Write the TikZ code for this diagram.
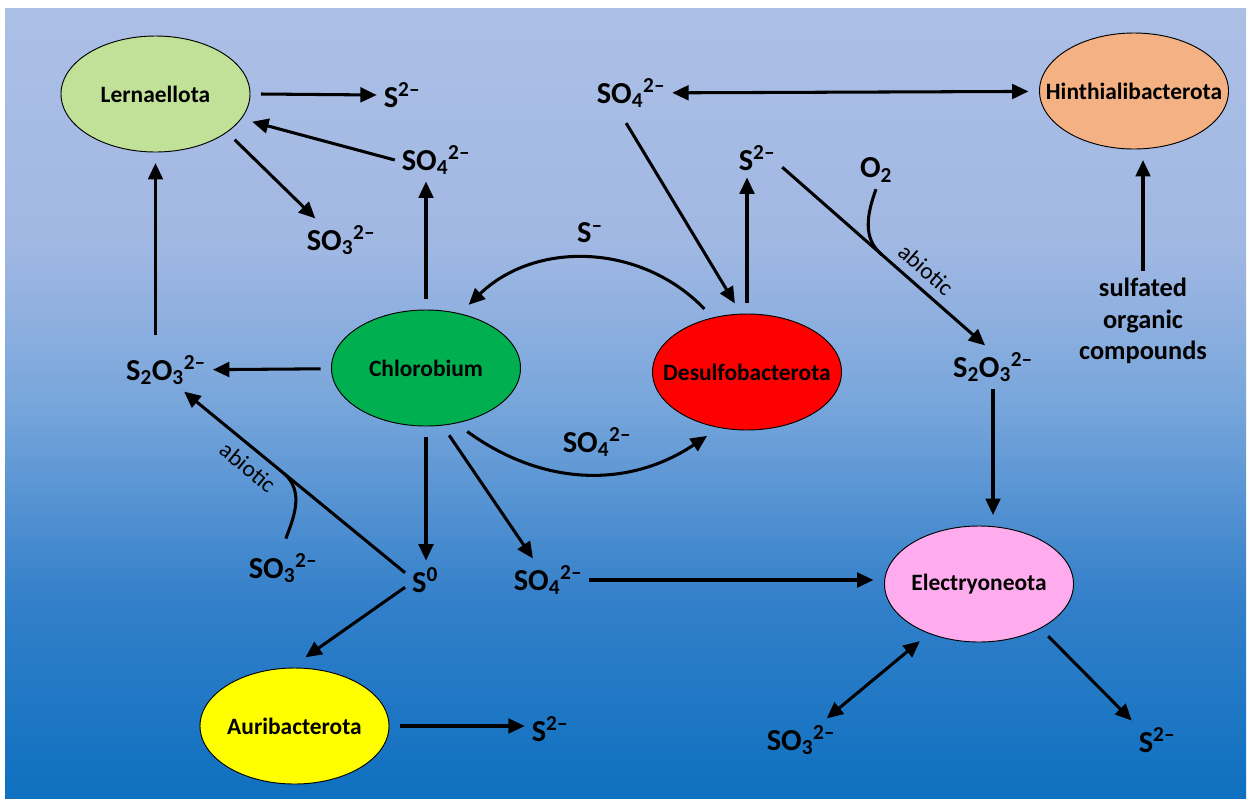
\documentclass[tikz,border=0pt]{standalone}
\usepackage{fontspec}
\setmainfont{Carlito}
\usetikzlibrary{shapes.geometric}
\usetikzlibrary{arrows.meta}
\usetikzlibrary{calc}

\definecolor{lernfill}{RGB}{194,225,152}
\definecolor{hinthfill}{RGB}{244,177,131}
\definecolor{chlorfill}{RGB}{0,176,80}
\definecolor{desulfill}{RGB}{255,0,0}
\definecolor{elecfill}{RGB}{255,172,238}
\definecolor{aurifill}{RGB}{255,255,0}

% water background, light on top, deep blue at the bottom
\pgfdeclareverticalshading{seaback}{100bp}{
  rgb(0bp)=(0.055,0.44,0.75); rgb(25bp)=(0.055,0.44,0.75);
  rgb(37.5bp)=(0.2,0.5,0.79); rgb(50bp)=(0.47,0.65,0.86);
  rgb(60bp)=(0.63,0.72,0.89); rgb(75bp)=(0.675,0.75,0.9);
  rgb(100bp)=(0.675,0.75,0.9)}

\tikzset{
  bug/.style={ellipse, draw=black, line width=0.8pt, minimum width=5.67cm,
    minimum height=3.48cm, inner sep=0pt, outer sep=0.33cm,
    label={[font=\fontsize{20}{24}\selectfont\bfseries]center:#1}},
  chem/.style={font=\fontsize{26}{30}\selectfont\bfseries, inner sep=2pt, outer sep=4pt},
  note/.style={font=\fontsize{20}{23}\selectfont, inner sep=2pt},
  flow/.style={line width=2.6pt, -{Triangle[length=14pt,width=12.5pt]}},
  twoway/.style={line width=2.6pt, {Triangle[length=14pt,width=12.5pt]}-{Triangle[length=14pt,width=12.5pt]}},
  joint/.style={line width=2.6pt}
}

\begin{document}
\begin{tikzpicture}[x=0.03cm, y=-0.03cm]
\useasboundingbox (0,0) rectangle (1248,798);
\shade[shading=seaback] (5,8) rectangle (1246,798);

% organisms
\node[bug=Lernaellota, fill=lernfill] (lern) at (155.5,94) {};
\node[bug=Hinthialibacterota, fill=hinthfill] (hinth) at (1134,91) {};
\node[bug=Chlorobium, fill=chlorfill] (chlor) at (426,368) {};
\node[bug=Desulfobacterota, fill=desulfill] (desulf) at (747,372) {};
\node[bug=Electryoneota, fill=elecfill] (elec) at (979,584) {};
\node[bug=Auribacterota, fill=aurifill] (auri) at (294.5,726) {};

% compounds
\node[chem] (s2a) at (402,95) {S\textsuperscript{2–}};
\node[chem] (so4a) at (631,93) {SO\textsubscript{4}\textsuperscript{2–}};
\node[chem] (so4b) at (436,160) {SO\textsubscript{4}\textsuperscript{2–}};
\node[chem] (so3a) at (341,240) {SO\textsubscript{3}\textsuperscript{2–}};
\node[chem] (s2b) at (757,158) {S\textsuperscript{2–}};
\node[chem] (o2) at (876,170) {O\textsubscript{2}};
\node[chem] (sm) at (590,233) {S\textsuperscript{–}};
\node[chem] (s2o3a) at (166,370) {S\textsubscript{2}O\textsubscript{3}\textsuperscript{2–}};
\node[chem] (s2o3b) at (993,367) {S\textsubscript{2}O\textsubscript{3}\textsuperscript{2–}};
\node[chem, align=center, font=\fontsize{22.5}{27}\selectfont\bfseries] (sulf) at (1143,321) {sulfated\\organic\\compounds};
\node[chem] (so4c) at (597,442) {SO\textsubscript{4}\textsuperscript{2–}};
\node[chem] (so3b) at (283,568) {SO\textsubscript{3}\textsuperscript{2–}};
\node[chem] (s0) at (425,580) {S\textsuperscript{0}};
\node[chem] (so4d) at (548,580) {SO\textsubscript{4}\textsuperscript{2–}};
\node[chem] (s2c) at (550,729) {S\textsuperscript{2–}};
\node[chem] (so3c) at (801,740) {SO\textsubscript{3}\textsuperscript{2–}};
\node[chem] (s2d) at (1157,740) {S\textsuperscript{2–}};

% Lernaellota
\draw[flow] (lern.east) -- (s2a.west);
\draw[flow] (so4b.west) -- (lern.-16);
\draw[flow] (lern.-30) -- (so3a.140);
\draw[flow, shorten <=0.4cm] (lern |- s2o3a.north) -- (lern.south);

% Chlorobium
\draw[flow] (chlor) -- (s2o3a);
\draw[flow] (chlor.north) -- (chlor.north |- so4b.south);
\draw[flow] (chlor.-57) to[bend right=35] (desulf.-122);
\draw[flow] (chlor.south) -- (chlor.south |- s0.north);
\draw[flow] (chlor.-71) -- (so4d.125);

% Desulfobacterota
\draw[flow] (desulf.124) to[bend right=45] (chlor.56);
\draw[flow, shorten <=0.3cm] (so4a.245) -- (desulf.100);
\draw[flow] (desulf.north) -- (desulf.north |- s2b.south);
\draw[twoway] (so4a) -- (hinth);
\draw[flow] (s2b.-20) -- (s2o3b.110) coordinate[pos=0.49] (o2j)
  node[note, pos=0.65, sloped, above=5pt] (ab1) {abiotic};
\draw[joint] (o2.south) to[out=-110, in=140] (o2j);
\draw[flow] (s2o3b.south) -- (s2o3b.south |- elec.north);
\draw[flow] (sulf.north) -- (sulf.north |- hinth.south);

% sulfur
\draw[flow] (s0.160) -- (s2o3a.-50) coordinate[pos=0.55] (so3j)
  node[note, pos=0.66, sloped, below=5pt] (ab2) {abiotic};
\draw[joint, shorten <=0.25cm] (so3b.north) to[out=70, in=-40] (so3j);
\draw[flow] (s0.200) -- (auri.81);
\draw[flow] (auri.east) -- (auri.east -| s2c.west);

% Electryoneota
\draw[flow] (so4d.east) -- (so4d.east -| elec.west);
\draw[twoway] (so3c.40) -- (elec.-136);
\draw[flow] (elec.-37) -- (s2d.north west);
\end{tikzpicture}
\end{document}
